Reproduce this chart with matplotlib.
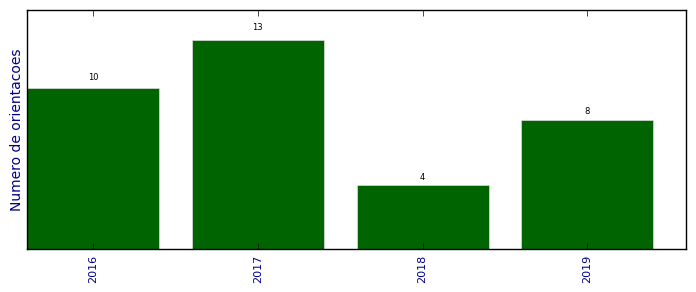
import matplotlib
matplotlib.use("Agg")
import matplotlib.pyplot as plt
import numpy as np

# dados
anos = ['2016', '2017', '2018', '2019']
orientacoes = [10, 13, 4, 8]

plt.style.use('classic')
fig = plt.figure(figsize=(6.96, 2.92), dpi=100)
ax = fig.add_axes([0.039, 0.147, 0.947, 0.819])

x = np.arange(len(anos))
bars = ax.bar(x, orientacoes, width=0.8, align='center', color='darkgreen', edgecolor='#dddddd', linewidth=0.5)

for b, v in zip(bars, orientacoes):
    ax.text(b.get_x() + b.get_width() / 2, 1.035 * v, '%d' % v, ha='center', va='bottom', fontsize=6)

ax.set_xlim(-0.4, 3.6)
ax.set_ylim(0, 14.85)
ax.set_xticks(x)
ax.set_xticklabels(anos, rotation=90, color='darkblue', fontsize=8)
ax.set_yticks([])
ax.set_ylabel('Numero de orientacoes', color='darkblue', fontsize=10, labelpad=2)

fig.savefig('out.png', dpi=100)
